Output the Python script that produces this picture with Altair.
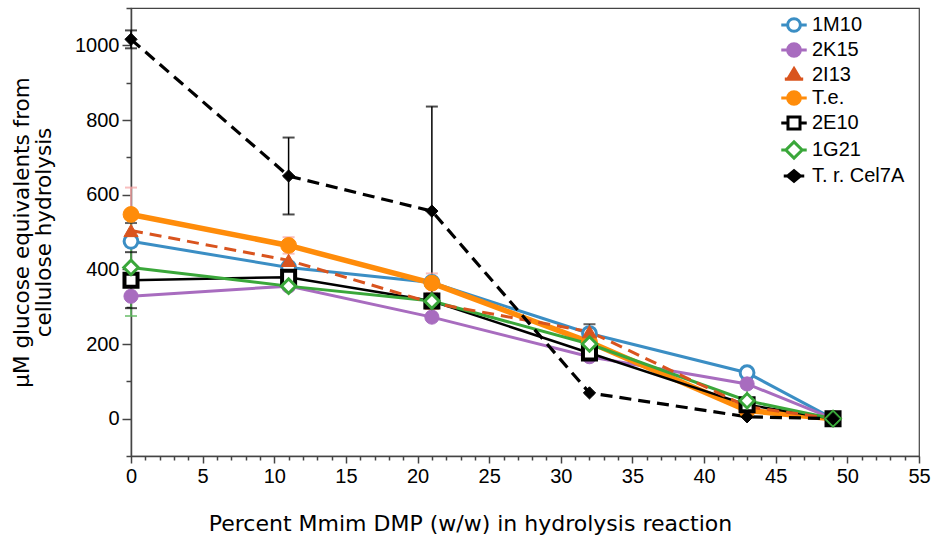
import altair as alt
import pandas as pd

# ---------------- data ----------------
x_pct = [0, 11, 21, 32, 43, 49]
series = ["1M10", "2K15", "2I13", "T.e.", "2E10", "1G21", "T. r. Cel7A"]

v_1M10 = [475, 405, 365, 228, 123, 0]
v_2K15 = [328, 355, 272, 166, 93, 0]
v_2I13 = [504, 424, 310, 233, 32, 0]
v_Te = [547, 464, 363, 205, 22, 0]
v_2E10 = [371, 379, 315, 176, 37, 0]
v_1G21 = [405, 355, 315, 200, 48, 0]
v_Cel7A = [1016, 650, 556, 69, 5, 0]

e_1M10 = [0, 0, 0, 0, 0, 0]
e_2K15 = [0, 0, 0, 0, 0, 0]
e_2I13 = [20, 0, 0, 20, 0, 0]
e_Te = [72, 22, 26, 0, 0, 0]
e_2E10 = [75, 24, 0, 0, 0, 0]
e_1G21 = [130, 0, 0, 0, 35, 0]
e_Cel7A = [24, 103, 280, 0, 0, 0]

values = [v_1M10, v_2K15, v_2I13, v_Te, v_2E10, v_1G21, v_Cel7A]
errors = [e_1M10, e_2K15, e_2I13, e_Te, e_2E10, e_1G21, e_Cel7A]

# ---------------- styles ----------------
stroke_rng = ["#3b8ec4", "#a86cbf", "#d9541e", "#ff8c0a", "#000000", "#3aa73a", "#000000"]
fill_rng = ["#ffffff", "#a86cbf", "#d9541e", "#ff8c0a", "#ffffff", "#ffffff", "#000000"]
marker = {"1M10": "circle", "2K15": "circle", "2I13": "triangle-up", "T.e.": "circle",
          "2E10": "square", "1G21": "diamond", "T. r. Cel7A": "diamond"}
pt_size = {"1M10": 190, "2K15": 200, "2I13": 200, "T.e.": 250, "2E10": 170, "1G21": 210,
           "T. r. Cel7A": 150}
line_w = {"1M10": 3, "2K15": 3, "2I13": 3, "T.e.": 5.5, "2E10": 2.5, "1G21": 3, "T. r. Cel7A": 3.2}
pt_w = {"1M10": 3, "2K15": 1, "2I13": 1, "T.e.": 1, "2E10": 4, "1G21": 3, "T. r. Cel7A": 1}
err_col = {"1M10": "#7fb3d9", "2K15": "#c9a3d8", "2I13": "#222222", "T.e.": "#f5a3a3",
           "2E10": "#000000", "1G21": "#5cb85c", "T. r. Cel7A": "#000000"}
dashed = ["2I13", "T. r. Cel7A"]

# legend glyphs: a short line segment with the marker on it
P_CIRCLE = "M-1.8,0H-0.9M0.9,0H1.8M-0.9,0A0.9,0.9 0 1,0 0.9,0A0.9,0.9 0 1,0 -0.9,0Z"
P_TRI = "M-1.3,0.55H-0.9M0.9,0.55H1.3M0,-0.9L0.9,0.6L-0.9,0.6Z"
P_SQUARE = "M-1.8,0H-0.85M0.85,0H1.8M-0.85,-0.85H0.85V0.85H-0.85Z"
P_DIAM = "M-1.8,0H-1.15M1.15,0H1.8M0,-1.15L1.15,0L0,1.15L-1.15,0Z"
P_DIAM_S = "M-1.45,0H-0.9M0.9,0H1.45M0,-0.75L0.9,0L0,0.75L-0.9,0Z"
legend_shape_expr = (
    "datum.value === '2I13' ? '" + P_TRI + "' : "
    "datum.value === '2E10' ? '" + P_SQUARE + "' : "
    "datum.value === '1G21' ? '" + P_DIAM + "' : "
    "datum.value === 'T. r. Cel7A' ? '" + P_DIAM_S + "' : '" + P_CIRCLE + "'"
)

rows = []
for s, vals, errs in zip(series, values, errors):
    for x, v, e in zip(x_pct, vals, errs):
        rows.append({"series": s, "x": x, "y": v, "lo": v - e, "hi": v + e, "err": e,
                     "lw": line_w[s], "pw": pt_w[s], "ps": pt_size[s], "ec": err_col[s]})
df = pd.DataFrame(rows)
err_df = df[df["err"] > 0]

FONT = "Liberation Sans"
TFONT = "DejaVu Sans"
xs = alt.Scale(domain=[0, 55], nice=False, zero=False)
ys = alt.Scale(domain=[-100, 1100], nice=False, zero=False)
stroke_scale = alt.Scale(domain=series, range=stroke_rng)
fill_scale = alt.Scale(domain=series, range=fill_rng)

x_axis = alt.Axis(
    values=list(range(0, 56)),
    labelExpr="datum.value % 5 === 0 ? datum.label : ''",
    tickSize={"condition": {"test": "datum.value % 5 === 0", "value": 7}, "value": 4},
    labelOverlap=False, labelFlush=False, grid=False,
    labelFontSize=20, labelPadding=3,
    title="Percent Mmim DMP (w/w) in hydrolysis  reaction",
    titleFont=TFONT, titleFontSize=22, titleFontWeight="normal", titleX=339, titleY=74,
    titleBaseline="alphabetic", titleAnchor="middle",
)
y_axis = alt.Axis(
    values=list(range(-100, 1101, 100)), format="d",
    labelExpr="datum.value % 200 === 0 ? datum.label : ''",
    tickSize={"condition": {"test": "datum.value % 200 === 0", "value": 9}, "value": 5},
    labelOverlap=False, labelFlush=False, grid=False,
    labelFontSize=20, labelPadding=3,
    title=["\u00b5M glucose equivalents from", "cellulose hydrolysis"],
    titleFont=TFONT, titleFontSize=21.5, titleFontWeight="normal", titleLineHeight=22,
    titleX=-103, titleBaseline="alphabetic", titleAngle=270,
)
legend = alt.Legend(
    title=None, orient="none", legendX=653, legendY=7,
    labelFontSize=20, labelFont=FONT, symbolSize=200, symbolStrokeWidth=3,
    rowPadding=-1, labelOffset=8, padding=0,
    symbolType=alt.ExprRef(expr=legend_shape_expr),
)

X = alt.X("x:Q", scale=xs, axis=x_axis)

err_rule = alt.Chart(err_df).mark_rule(strokeWidth=1.5).encode(
    x=X,
    y=alt.Y("lo:Q", scale=ys, axis=y_axis),
    y2="hi:Q",
    color=alt.Color("ec:N", scale=None),
)
err_top = alt.Chart(err_df).mark_tick(orient="horizontal", size=12, thickness=2).encode(
    x=X,
    y=alt.Y("hi:Q", scale=ys, axis=y_axis),
    color=alt.Color("ec:N", scale=None),
)
err_bot = alt.Chart(err_df).mark_tick(orient="horizontal", size=12, thickness=2).encode(
    x=X,
    y=alt.Y("lo:Q", scale=ys, axis=y_axis),
    color=alt.Color("ec:N", scale=None),
)

base = alt.Chart(df)
solid_lines = base.transform_filter(
    alt.FieldOneOfPredicate(field="series", oneOf=[s for s in series if s not in dashed])
).mark_line().encode(
    x=X,
    y=alt.Y("y:Q", scale=ys, axis=y_axis),
    stroke=alt.Stroke("series:N", scale=stroke_scale, legend=legend),
    strokeWidth=alt.StrokeWidth("lw:Q", scale=None),
    order=alt.Order("x:Q"),
)
dashed_lines = base.transform_filter(
    alt.FieldOneOfPredicate(field="series", oneOf=dashed)
).mark_line(strokeDash=[12, 7]).encode(
    x=X,
    y=alt.Y("y:Q", scale=ys, axis=y_axis),
    stroke=alt.Stroke("series:N", scale=stroke_scale, legend=legend),
    strokeWidth=alt.StrokeWidth("lw:Q", scale=None),
    order=alt.Order("x:Q"),
)


def point_layer(shape):
    members = [s for s in series if marker[s] == shape]
    return base.transform_filter(
        alt.FieldOneOfPredicate(field="series", oneOf=members)
    ).mark_point(filled=False, opacity=1, shape=shape).encode(
        x=X,
        y=alt.Y("y:Q", scale=ys, axis=y_axis),
        stroke=alt.Stroke("series:N", scale=stroke_scale, legend=legend),
        fill=alt.Fill("series:N", scale=fill_scale, legend=legend),
        size=alt.Size("ps:Q", scale=None),
        strokeWidth=alt.StrokeWidth("pw:Q", scale=None),
    )


point_layers = [point_layer(sh) for sh in ["circle", "triangle-up", "square", "diamond"]]

chart = alt.layer(err_rule, err_top, err_bot, solid_lines, dashed_lines, *point_layers).properties(
    width=788, height=448,
    autosize=alt.AutoSizeParams(type="none"),
    padding={"left": 131, "top": 8, "right": 16, "bottom": 84},
).configure(
    font=FONT,
).configure_view(
    stroke="#444444", strokeWidth=1.2,
).configure_axis(
    domainColor="#444444", domainWidth=1.5, tickColor="#444444", tickWidth=1.5,
    labelColor="#000000", titleColor="#000000", labelFont=FONT,
)

chart.save("out.html", embed_options={"renderer": "svg", "actions": False})
